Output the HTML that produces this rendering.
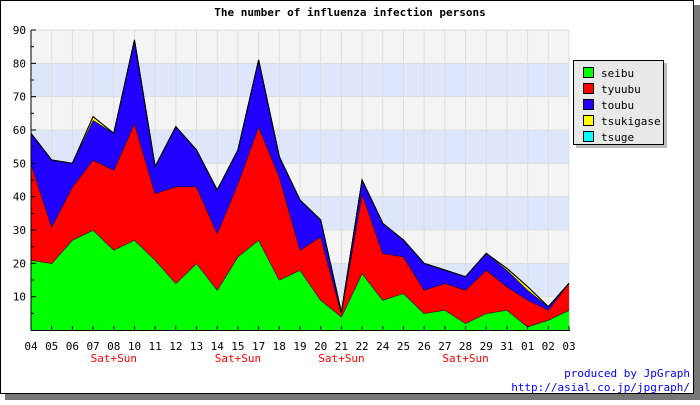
<!DOCTYPE html>
<html><head><meta charset="utf-8"><style>
body{margin:0;background:#fff}
svg text{font-family:"DejaVu Sans Mono","Liberation Mono",monospace}
</style></head><body>
<svg id="c" width="700" height="400" xmlns="http://www.w3.org/2000/svg">
<rect x="5" y="5" width="695" height="395" fill="#777"/>
<rect x="0.5" y="0.5" width="693" height="393" fill="#fff" stroke="#000"/>
<text x="350" y="16" text-anchor="middle" font-size="11" font-weight="bold">The number of influenza infection persons</text>
<g id="bands"></g><g id="grid"></g><g id="areas"></g><g id="axes"></g>
<g>
<rect x="576" y="63" width="91" height="85" fill="#bbb"/>
<rect x="573.5" y="60.5" width="90" height="84" fill="#e8e8e8" stroke="#000"/>
<g id="legend"></g>
</g>
<text x="690" y="377" text-anchor="end" font-size="11" fill="#0000ff">produced by JpGraph</text>
<text x="690" y="391" text-anchor="end" font-size="11" fill="#0000ff">http://asial.co.jp/jpgraph/</text>
</svg>
<script>
const categories=["04","05","06","07","08","10","11","12","13","14","15","17","18","19","20","21","22","24","25","26","27","28","29","31","01","02","03"];
const weekendLabels=["08","15","21","28"];
const seibu=[21,20,27,30,24,27,21,14,20,12,22,27,15,18,9,4,17,9,11,5,6,2,5,6,1,3,6];
const tyuubu=[29,11,16,21,24,35,20,29,23,17,22,34,31,6,19,1,24,14,11,7,8,10,13,7,8,3,8];
const toubu=[9,20,7,12,11,25,8,18,11,13,10,20,6,15,5,0.3,4,9,5,8,4,4,5,5,3,1,0];
const tsukigase=[0,0,0,1,0,0,0,0,0,0,0,0,0,0,0,0,0,0,0,0,0,0,0,0.5,1,0,0];
const tsuge=[0,0,0,0,0,0,0,0,0,0,0,0,0,0,0,0,0,0,0,0,0,0,0,0,0,0,0];
const yTicks=[10,20,30,40,50,60,70,80,90];
const seriesNames=["seibu","tyuubu","toubu","tsukigase","tsuge"];
const seriesColors=["#00ff00","#ff0000","#2200ff","#ffff00","#00ffff"];
const NS="http://www.w3.org/2000/svg";
const X0=31,X1=569,Y0=330,Y1=30,YMAX=90;
const xs=i=>X0+(X1-X0)*i/(categories.length-1);
const ys=v=>Y0-(Y0-Y1)*v/YMAX;
function mk(t,a,p){const e=document.createElementNS(NS,t);for(const k in a)e.setAttribute(k,a[k]);p.appendChild(e);return e;}
const bands=document.getElementById('bands');
for(let v=0;v<90;v+=10){
 const r=mk('rect',{x:X0,y:ys(v+10),width:X1-X0,height:ys(v)-ys(v+10),fill:(v/10)%2===1?'#dde6fa':'#f4f4f4'},bands);
 
 
}
const grid=document.getElementById('grid');
categories.forEach((c,i)=>{const l=mk('line',{x1:xs(i),x2:xs(i),y1:Y1,y2:Y0,stroke:'#ddd'},grid);
 
 });
yTicks.forEach(v=>{const l=mk('line',{x1:X0,x2:X1,y1:ys(v),y2:ys(v),stroke:'#ddd'},grid);
 
 });
const all=[seibu,tyuubu,toubu,tsukigase,tsuge];
const areas=document.getElementById('areas');
let base=categories.map(()=>0);
all.forEach((s,k)=>{
 const top=base.map((b,i)=>b+s[i]);
 let d='M'+categories.map((c,i)=>xs(i)+','+ys(top[i])).join('L');
 for(let i=categories.length-1;i>=0;i--)d+='L'+xs(i)+','+ys(base[i]);
 d+='Z';
 const p=mk('path',{d:d,fill:seriesColors[k],stroke:'none'},areas);
 
 
 const ln=mk('polyline',{points:categories.map((c,i)=>xs(i)+','+ys(top[i])).join(' '),fill:'none',stroke:'#000','stroke-width':1},areas);
 
 
 base=top;
});
const axes=document.getElementById('axes');
mk('line',{x1:X0,x2:X0,y1:Y1,y2:Y0+0.5,stroke:'#000'},axes);
mk('line',{x1:X0,x2:X1+1,y1:Y0+0.5,y2:Y0+0.5,stroke:'#000'},axes);
for(let v=5;v<=90;v+=5){const t=mk('line',{x1:X0,x2:X0+(v%10?3:5),y1:ys(v),y2:ys(v),stroke:'#000'},axes);
 
 }
yTicks.forEach(v=>{const t=mk('text',{x:X0-5,y:ys(v)+4,'text-anchor':'end','font-size':11},axes);t.textContent=v;
 
 });
categories.forEach((c,i)=>{
 const tk=mk('line',{x1:xs(i),x2:xs(i),y1:Y0,y2:Y0-4,stroke:'#000'},axes);
 
 
 const t=mk('text',{x:xs(i),y:350,'text-anchor':'middle','font-size':11},axes);t.textContent=c;
 
 
 if(weekendLabels.includes(c)){const w=mk('text',{x:xs(i),y:362,'text-anchor':'middle','font-size':11,fill:'#ff0000'},axes);w.textContent='Sat+Sun';
  
  }
});
const lg=document.getElementById('legend');
seriesNames.forEach((n,k)=>{const y=67+k*16;
 const r=mk('rect',{x:583.5,y:y+0.5,width:10,height:10,fill:seriesColors[k],stroke:'#000'},lg);
 
 
 const t=mk('text',{x:601,y:y+10,'font-size':11},lg);t.textContent=n;
 
 });
</script>
</body></html>
